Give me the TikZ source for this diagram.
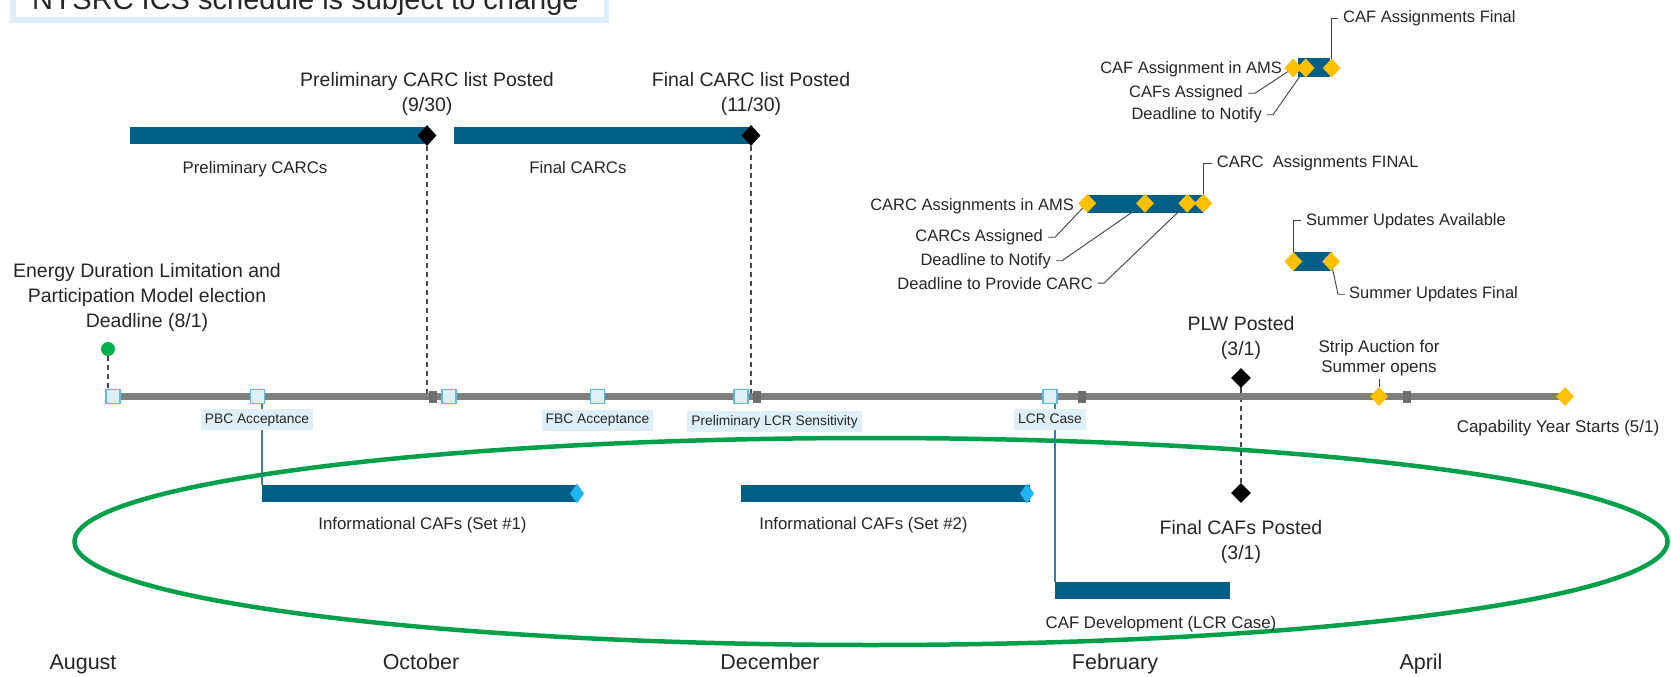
\documentclass[tikz,border=0pt]{standalone}
\usepackage{fontspec}
\setmainfont{Liberation Sans}
\usetikzlibrary{shapes.geometric}
\definecolor{barblue}{HTML}{005F87}
\definecolor{linegray}{HTML}{7F7F7F}
\definecolor{tickc}{HTML}{6D6D6D}
\definecolor{sqfill}{HTML}{DDEFF9}
\definecolor{sqdraw}{HTML}{5DB9E6}
\definecolor{lblfill}{HTML}{DDF0FA}
\definecolor{ygold}{HTML}{FFC000}
\definecolor{cyanc}{HTML}{1FB4F4}
\definecolor{ellgreen}{HTML}{00A04B}
\definecolor{dotgreen}{HTML}{00B050}
\definecolor{txtc}{HTML}{262626}
\definecolor{vlinec}{HTML}{3F7D9E}
\definecolor{leadc}{HTML}{404040}
\definecolor{dashc}{HTML}{4A4A4A}
\definecolor{boxc}{HTML}{DCEEF9}
\pgfdeclarelayer{bg}
\pgfsetlayers{bg,main}
\begin{document}
\begin{tikzpicture}[x=1pt,y=-1pt,
  txt/.style={text=txtc, inner sep=0pt},
  bigt/.style={txt, font=\fontsize{19.5}{25}\selectfont, align=center},
  stript/.style={txt, font=\fontsize{17}{20}\selectfont, align=center},
  midt/.style={txt, font=\fontsize{16.5}{20}\selectfont},
  barlbl/.style={txt, font=\fontsize{16.8}{20}\selectfont, anchor=base},
  montht/.style={txt, font=\fontsize{21.5}{26}\selectfont, anchor=base},
  tagbox/.style={fill=lblfill, text=txtc, font=\fontsize{13.8}{16}\selectfont, inner xsep=4pt, inner ysep=4pt, text height=10pt, text depth=3pt},
  barnode/.style={rectangle, fill=barblue, minimum height=17.5pt, inner sep=0pt, anchor=west},
  dia/.style={diamond, inner sep=0pt, minimum width=18pt, minimum height=19pt},
  ydia/.style={dia, fill=ygold},
  kdia/.style={dia, fill=black, minimum width=19pt, minimum height=21pt},
  cdia/.style={dia, fill=cyanc, minimum width=14pt, minimum height=20pt},
  sq/.style={rectangle, fill=sqfill, draw=sqdraw, line width=1.2pt, minimum size=14pt, inner sep=0pt},
  tickm/.style={rectangle, fill=tickc, minimum width=8pt, minimum height=12pt, inner sep=0pt},
  leader/.style={draw=leadc, line width=0.9pt},
  dsh/.style={draw=dashc, line width=1.2pt, dash pattern=on 5pt off 4pt},
  vblue/.style={draw=vlinec, line width=1.2pt}
]
\useasboundingbox (0,0) rectangle (1671,677);
\clip (0,0) rectangle (1671,677);

% top note box
\draw[draw=boxc, line width=5.5pt, fill=white] (13,-30) rectangle (606.5,20);
\node[txt, font=\fontsize{29}{34}\selectfont, anchor=base west] (note) at (32,10) {NYSRC ICS schedule is subject to change};

% timeline
\node[rectangle, fill=linegray, minimum width=1461pt, minimum height=7pt, inner sep=0pt, anchor=west] (tl) at (106,396.5) {};
\node[tickm] (k1) at (432.5,396.5) {};
\node[tickm] (k2) at (757,396.5) {};
\node[tickm] (k3) at (1081.5,396.5) {};
\node[tickm] (k4) at (1406.5,396.5) {};
\node[sq] (s1) at (113,396.5) {};
\node[sq] (s2) at (257.5,396.5) {};
\node[sq] (s3) at (449,396.5) {};
\node[sq] (s4) at (597.5,396.5) {};
\node[sq] (s5) at (741,396.5) {};
\node[sq] (s6) at (1050,396.5) {};
\node[ydia] (y1) at (1379,396.5) {};
\node[ydia] (y2) at (1565,396.5) {};

% tags under timeline
\node[tagbox] (pbc) at (257,419.5) {PBC Acceptance};
\node[tagbox] (fbc) at (597.5,420) {FBC Acceptance};
\node[tagbox] (lcrs) at (774.5,421.5) {Preliminary LCR Sensitivity};
\node[tagbox] (lcrc) at (1050,419.5) {LCR Case};

% energy
\node[circle, fill=dotgreen, minimum size=14pt, inner sep=0pt] (gd) at (108,349) {};
\node[bigt] (edl) at (147,297) {Energy Duration Limitation and\\Participation Model election\\Deadline (8/1)};

% CARC bars
\node[barnode, minimum width=298.5pt] (b1) at (129.5,135.5) {};
\node[barnode, minimum width=297.4pt] (b2) at (453.6,135.5) {};
\node[kdia] (kd1) at (427,135.5) {};
\node[kdia] (kd2) at (751,135.5) {};
\node[bigt] (prelpost) at (427,94) {Preliminary CARC list Posted\\(9/30)};
\node[bigt] (finpost) at (751,94) {Final CARC list Posted\\(11/30)};
\node[barlbl] (l1) at (255,173) {Preliminary CARCs};
\node[barlbl] (l2) at (578,173) {Final CARCs};

% CARC assignment block
\node[barnode, minimum width=116pt, minimum height=18pt] (cb) at (1087,203.5) {};
\node[ydia] (cd1) at (1087.3,203.3) {};
\node[ydia] (cd2) at (1145,203.3) {};
\node[ydia] (cd3) at (1187.3,203.3) {};
\node[ydia] (cd4) at (1203.3,203.3) {};
\node[midt, anchor=base east] (carcams) at (1074,210) {CARC Assignments in AMS};
\node[midt, anchor=base east] (carcasg) at (1043,241.5) {CARCs Assigned};
\node[midt, anchor=base east] (carcdn) at (1051,265) {Deadline to Notify};
\node[midt, anchor=base east] (carcdp) at (1093,289) {Deadline to Provide CARC};
\node[midt, anchor=base west] (carcfin) at (1216.7,167.5) {CARC\ \ Assignments FINAL};

% Summer block
\node[barnode, minimum width=38.5pt, minimum height=19pt] (sb) at (1293,261.5) {};
\node[ydia] (sd1) at (1293.3,261.5) {};
\node[ydia] (sd2) at (1331,261.5) {};
\node[midt, anchor=base west] (sua) at (1306,225) {Summer Updates Available};
\node[midt, anchor=base west] (suf) at (1349,298.5) {Summer Updates Final};

% CAF block
\node[barnode, minimum width=32pt, minimum height=19pt] (fb) at (1298,68) {};
\node[ydia] (fd1) at (1293.3,68) {};
\node[ydia] (fd2) at (1305.7,68) {};
\node[ydia] (fd3) at (1331.7,68) {};
\node[midt, anchor=base east] (cafams) at (1282,74) {CAF Assignment in AMS};
\node[midt, anchor=base east] (cafasg) at (1243,97.5) {CAFs Assigned};
\node[midt, anchor=base east] (cafdn) at (1262,119) {Deadline to Notify};
\node[midt, anchor=base west] (caffin) at (1343,22.5) {CAF Assignments Final};

% PLW / final CAFs
\node[kdia, minimum width=20pt, minimum height=20pt] (kd3) at (1241,378) {};
\node[kdia, minimum width=20pt, minimum height=20pt] (kd4) at (1241,493) {};
\node[bigt] (plw) at (1241,337.5) {PLW Posted\\(3/1)};
\node[bigt] (fcafs) at (1241,541.5) {Final CAFs Posted\\(3/1)};
\node[stript] (strip) at (1379,358) {Strip Auction for\\Summer opens};
\node[midt, font=\fontsize{17}{20}\selectfont, anchor=base] (capy) at (1558,432) {Capability Year Starts (5/1)};

% lower bars
\node[barnode] (b3) at (262,493.5) [minimum width=315pt] {};
\node[barnode] (b4) at (741,493.5) [minimum width=289pt] {};
\node[barnode] (b5) at (1055,590.5) [minimum width=175pt] {};
\node[cdia] (cy1) at (577,493.5) {};
\node[cdia] (cy2) at (1027,493.5) {};
\node[barlbl] (l3) at (422.5,529) {Informational CAFs (Set \#1)};
\node[barlbl] (l4) at (863.5,529) {Informational CAFs (Set \#2)};
\node[barlbl] (l5) at (1161,628) {CAF Development (LCR Case)};

% months
\node[montht] (m1) at (83,669.5) {August};
\node[montht] (m2) at (421,669.5) {October};
\node[montht] (m3) at (770,669.5) {December};
\node[montht] (m4) at (1115,669.5) {February};
\node[montht] (m5) at (1421,669.5) {April};

\begin{pgfonlayer}{bg}
  \fill[white] (0,0) rectangle (1671,677);
  \draw[ellgreen, line width=4.5pt] (871,541.5) ellipse [x radius=796.5, y radius=103.5];
  \draw[dsh] (gd.south) -- (gd.south |- s1.north);
  \draw[dsh] (kd1.south) -- (kd1.south |- tl.center);
  \draw[dsh] (kd2.south) -- (kd2.south |- tl.center);
  \draw[draw=leadc, line width=1.3pt] (kd3.center) -- (kd3.center |- tl.center);
  \draw[dsh] (kd3.center |- tl.center) -- (kd4.north);
  \draw[leader] (y1.north) -- ++(0,-8);
  \draw[vblue] (b3.north west) -- (b3.north west |- s2.south);
  \draw[vblue] (b5.north west) -- (b5.north west |- s6.south);
  % CARC leaders
  \draw[leader] ([xshift=5pt]carcasg.east) -- ++(7,0) -- (cd1.center);
  \draw[leader] ([xshift=5pt]carcdn.east) -- ++(6,0) -- (cd2.center);
  \draw[leader] ([xshift=5pt]carcdp.east) -- ++(6,0) -- (cd3.center);
  \draw[leader] (cd4.center) |- ([xshift=-5pt]carcfin.west);
  % summer leaders
  \draw[leader] (sd1.center) |- ([xshift=-5pt]sua.west);
  \draw[leader] (sd2.center) -- ([xshift=-11pt]suf.west) -- ([xshift=-4pt]suf.west);
  % CAF leaders
  \draw[leader] ([xshift=5pt]cafasg.east) -- ++(7,0) -- (fd1.center);
  \draw[leader] ([xshift=5pt]cafdn.east) -- ++(6,0) -- (fd2.center);
  \draw[leader] (fd3.center) |- ([xshift=-5pt]caffin.west);
\end{pgfonlayer}
\end{tikzpicture}
\end{document}
